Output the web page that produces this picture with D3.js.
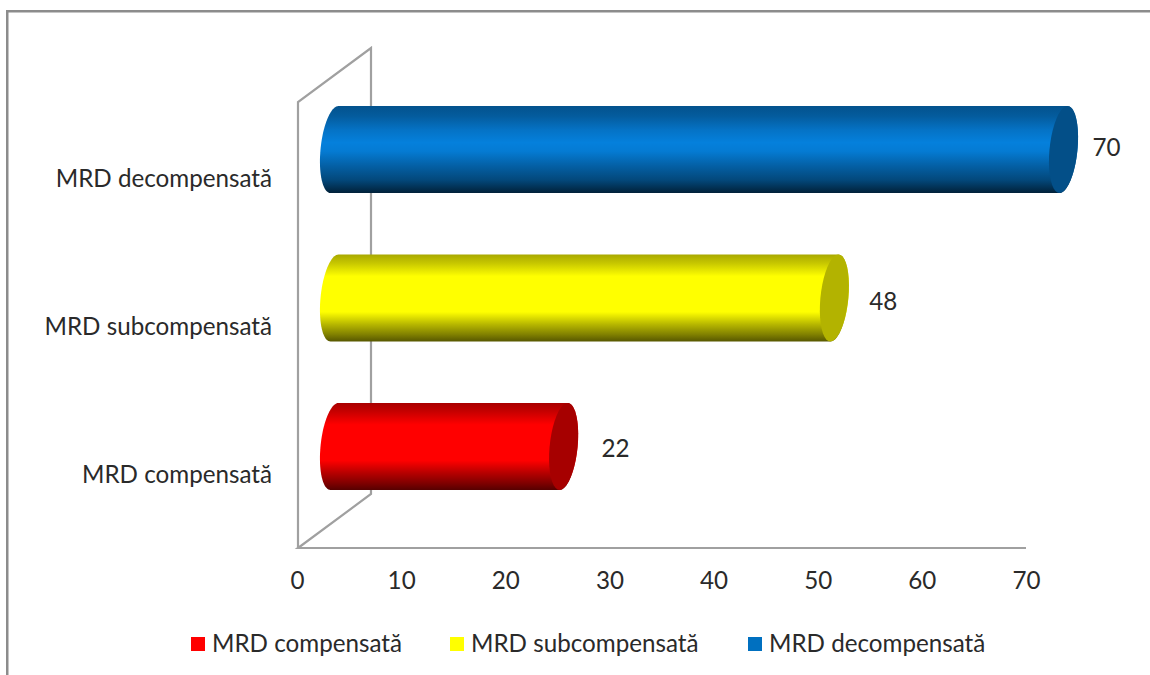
<!DOCTYPE html>
<html>
<head>
<meta charset="utf-8">
<script src="https://cdn.jsdelivr.net/npm/d3@7"></script>
<style>
html,body{margin:0;padding:0;background:#fff}
svg{display:block}
text{font-family:Lato,"Open Sans",sans-serif;fill:#2a2a2a;font-size:24.2px}
</style>
</head>
<body>
<svg id="chart" width="1150" height="675"></svg>
<script>
// Cylinder bar chart: MRD stages by value
const categories = ["MRD compensată", "MRD subcompensată", "MRD decompensată"];
const values = [22, 48, 70];
const barColors = ["#ff0000", "#ffff00", "#0580dc"];
const legendColors = ["#ff0000", "#ffff00", "#0070c0"];
const tickValues = [0, 10, 20, 30, 40, 50, 60, 70];

const svg = d3.select("#chart");
const defs = svg.append("defs");
const gridGray = "#a0a0a0";

// Axis floor and the depth offset of the 3D wall
const x0 = 297, xEnd = 1026, floorY = 548, wallH = 446;
const depthX = 73, depthY = 54, wallX = 298;
const x = d3.scaleLinear().domain([0, 70]).range([x0, xEnd]);
const y = d3.scaleBand().domain(categories.slice().reverse())
  .range([76.3, 519.7]).paddingInner(0.414).paddingOuter(0.2);

// Chart area frame
svg.append("path")
  .attr("d", "M7.25,675V11.25H1150")
  .attr("fill", "none").attr("stroke", "#8c8c8c").attr("stroke-width", 2.5);

// Side wall and floor lines
svg.append("path")
  .attr("d", d3.line()([
    [wallX, floorY], [wallX, floorY - wallH], [wallX + depthX, floorY - wallH - depthY],
    [wallX + depthX, floorY - depthY], [wallX, floorY], [xEnd, floorY]
  ]))
  .attr("fill", "none").attr("stroke", gridGray).attr("stroke-width", 2.2);

// Value axis, tick labels only
const axis = svg.append("g")
  .attr("transform", `translate(0,${floorY})`)
  .call(d3.axisBottom(x).tickValues(tickValues).tickSize(0).tickPadding(24));
axis.select(".domain").remove();
axis.attr("font-family", null).attr("font-size", null);

// Category labels
svg.append("g").selectAll("text").data(categories).join("text")
  .attr("x", 272)
  .attr("y", d => y(d) + y.bandwidth() / 2 + 37)
  .attr("text-anchor", "end")
  .text(d => d);

// Gradients shading each cylinder from its top edge to its bottom edge;
// the saturated warm colours hold their full value over a wider middle band
const warmStops = [[0, 0.66], [0.1, 0.78], [0.25, 1], [0.66, 1], [0.8, 0.72], [0.92, 0.5], [1, 0.34]];
const coolStops = [[0, 0.64], [0.12, 0.72], [0.28, 0.9], [0.42, 1], [0.52, 0.96], [0.68, 0.76], [0.85, 0.56], [1, 0.26]];
const scaled = (c, f) => { const r = d3.rgb(c); return d3.rgb(r.r * f, r.g * f, r.b * f).formatHex(); };
barColors.forEach((c, i) => {
  const g = defs.append("linearGradient").attr("id", "cyl" + i)
    .attr("x1", 0).attr("y1", 0).attr("x2", 0).attr("y2", 1);
  (i === 2 ? coolStops : warmStops).forEach(([o, f]) =>
    g.append("stop").attr("offset", o).attr("stop-color", scaled(c, f)));
});

// A cylinder lying on its side: a skewed ellipse at each end joined by the body
const rx = 14, skew = 4;
function ellipsePoints(cx, cy, ry, from, to) {
  return d3.range(0, 41).map(i => {
    const t = from + (to - from) * i / 40;
    return [cx + rx * Math.cos(t) - skew * Math.sin(t), cy + ry * Math.sin(t)];
  });
}
// Hand placement of the value labels relative to each bar end
const labelShiftX = [52, 49, 43];
const labelShiftY = [11, 12, 6];
const capShade = [0.65, 0.7, 0.62];
const bars = svg.append("g");
categories.forEach((cat, i) => {
  const h = y.bandwidth(), ry = h / 2, cy = y(cat) + ry;
  const left = x(0) + 37.5, right = x(values[i]) + 37.5;
  const leftArc = ellipsePoints(left, cy, ry, Math.PI / 2, 3 * Math.PI / 2);
  const rightArc = ellipsePoints(right, cy, ry, -Math.PI / 2, Math.PI / 2);
  bars.append("path")
    .attr("d", d3.line()(leftArc.concat(rightArc)) + "Z")
    .attr("fill", `url(#cyl${i})`);
  bars.append("path")
    .attr("d", d3.line()(ellipsePoints(right, cy, ry, 0, 2 * Math.PI)) + "Z")
    .attr("fill", scaled(barColors[i], capShade[i]));
  svg.append("text")
    .attr("x", right + labelShiftX[i])
    .attr("y", cy + labelShiftY[i])
    .attr("text-anchor", "middle")
    .text(values[i]);
});

// Legend
const legendX = [191, 450, 748];
const legend = svg.append("g").selectAll("g").data(categories).join("g")
  .attr("transform", (d, i) => `translate(${legendX[i]},644)`);
legend.append("rect").attr("y", -7).attr("width", 14).attr("height", 14)
  .attr("fill", (d, i) => legendColors[i]);
legend.append("text").attr("x", 21).attr("y", 8).text(d => d);
</script>
</body>
</html>
